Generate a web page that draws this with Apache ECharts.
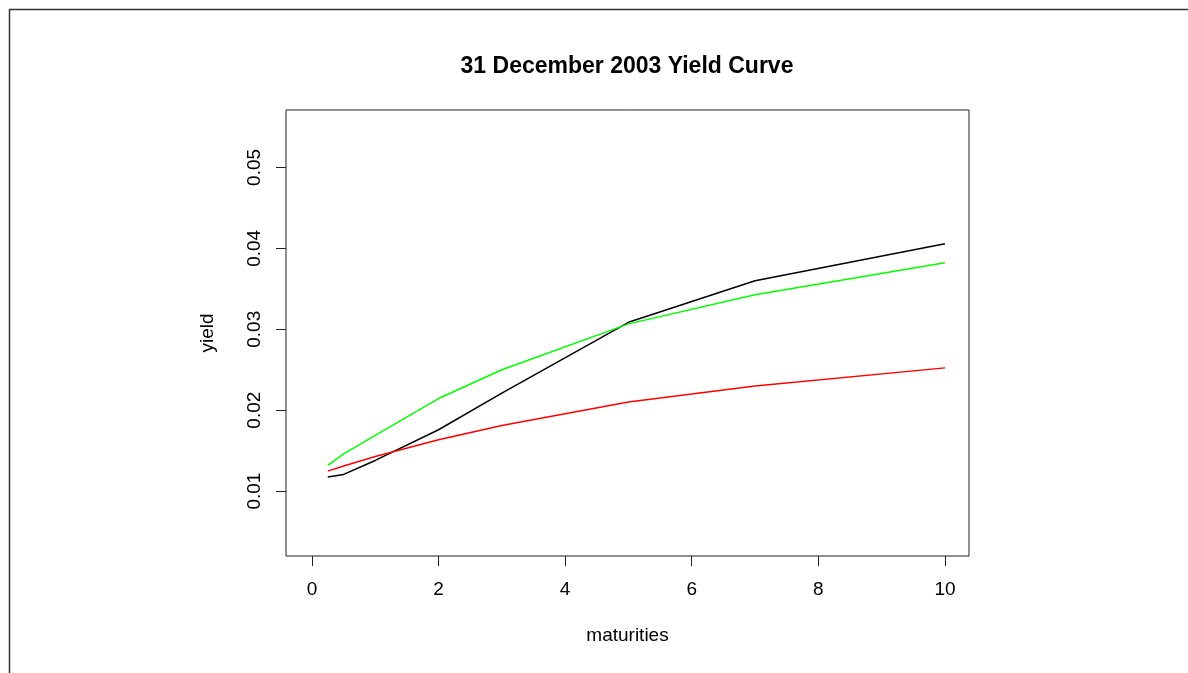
<!DOCTYPE html>
<html>
<head>
<meta charset="utf-8">
<title>31 December 2003 Yield Curve</title>
<script src="https://cdn.jsdelivr.net/npm/echarts@6/dist/echarts.min.js"></script>
<style>
  html, body { margin: 0; padding: 0; background: #fff; }
  #chart { width: 1188px; height: 673px; }
</style>
</head>
<body>
<div id="chart"></div>
<script>
// Maturities in years
const maturities = [0.25, 0.5, 1, 2, 3, 5, 7, 10];
// Observed yields (black)
const observedYield = [0.01173, 0.01206, 0.01379, 0.01758, 0.0221, 0.03086, 0.0360, 0.04058];
// Fitted curve (green)
const fitGreen = [0.01317, 0.0146, 0.0169, 0.02144, 0.0250, 0.03067, 0.03428, 0.03823];
// Fitted curve (red)
const fitRed = [0.01247, 0.0131, 0.01428, 0.01634, 0.01811, 0.0210, 0.0230, 0.02523];

const xTicks = [0, 2, 4, 6, 8, 10];
const yTicks = [0.01, 0.02, 0.03, 0.04, 0.05];

const pairs = (xs, ys) => xs.map((x, i) => [x, ys[i]]);

const font = '"Liberation Sans", Arial, sans-serif';

const chart = echarts.init(document.getElementById('chart'), null, { renderer: 'canvas' });

const lineSeries = (name, values, color) => ({
  name,
  type: 'line',
  data: pairs(maturities, values),
  showSymbol: false,
  symbol: 'none',
  smooth: false,
  lineStyle: { color, width: 1.5 },
  animation: false
});

chart.setOption({
  backgroundColor: '#ffffff',
  animation: false,
  title: {
    text: '31 December 2003 Yield Curve',
    left: 622,
    textAlign: 'center',
    top: 50,
    textStyle: { fontFamily: font, fontSize: 23, fontWeight: 'bold', color: '#000' }
  },
  grid: {
    left: 286, right: 219, top: 110, bottom: 117,
    show: true, borderColor: '#222', borderWidth: 1, backgroundColor: 'transparent'
  },
  xAxis: {
    type: 'value',
    min: -0.41, max: 10.38,
    name: 'maturities',
    nameLocation: 'middle',
    nameGap: 70,
    nameTextStyle: { fontFamily: font, fontSize: 19, color: '#000' },
    splitLine: { show: false },
    axisLine: { show: false, onZero: false },
    axisTick: { show: true, customValues: xTicks, length: 10, inside: false, lineStyle: { color: '#222', width: 1 } },
    axisLabel: { customValues: xTicks, margin: 24, fontFamily: font, fontSize: 19, color: '#000',
      formatter: v => String(v) }
  },
  yAxis: {
    type: 'value',
    min: 0.00198, max: 0.0571,
    name: 'yield',
    nameLocation: 'middle',
    nameGap: 69,
    nameRotate: 90,
    nameTextStyle: { fontFamily: font, fontSize: 19, color: '#000' },
    splitLine: { show: false },
    axisLine: { show: false, onZero: false },
    axisTick: { show: true, customValues: yTicks, length: 10, inside: false, lineStyle: { color: '#222', width: 1 } },
    axisLabel: { customValues: yTicks, rotate: 90, margin: 22, fontFamily: font, fontSize: 19, color: '#000',
      formatter: v => v.toFixed(2) }
  },
  graphic: [
    { type: 'line', shape: { x1: 9, y1: 9.5, x2: 1188, y2: 9.5 }, style: { stroke: '#333', lineWidth: 1.5 }, silent: true },
    { type: 'line', shape: { x1: 9.5, y1: 9, x2: 9.5, y2: 673 }, style: { stroke: '#333', lineWidth: 1.5 }, silent: true }
  ],
  series: [
    lineSeries('observed', observedYield, '#000000'),
    lineSeries('fit green', fitGreen, '#00ff00'),
    lineSeries('fit red', fitRed, '#ff0000')
  ]
});
</script>
</body>
</html>
